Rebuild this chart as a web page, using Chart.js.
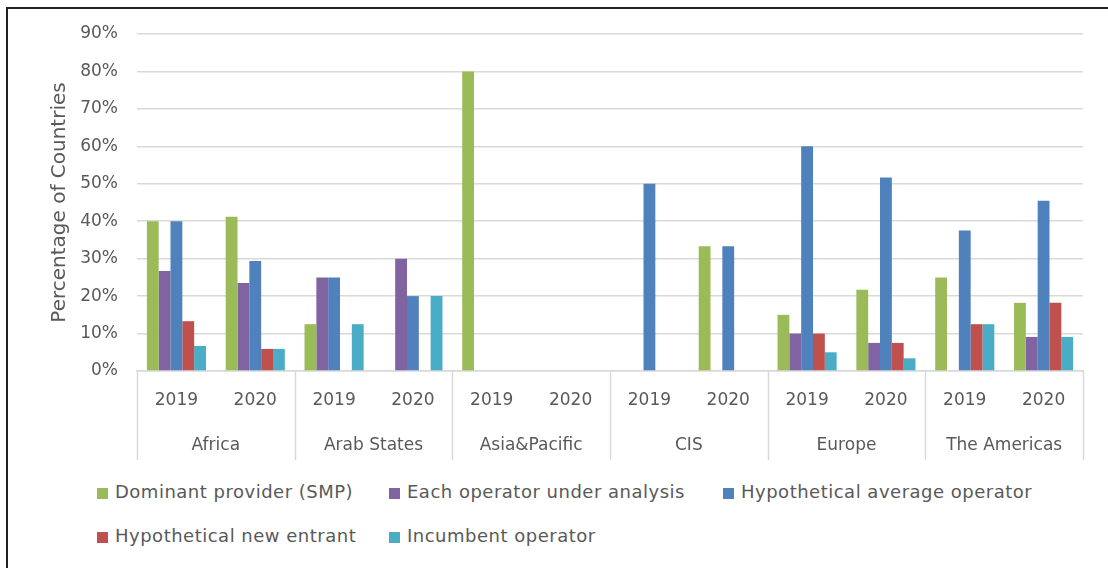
<!DOCTYPE html>
<html>
<head>
<meta charset="utf-8">
<script src="https://cdn.jsdelivr.net/npm/chart.js@4/dist/chart.umd.min.js"></script>
<style>
    body { margin: 0; background: #fff; width: 1108px; height: 568px; overflow: hidden; position: relative; font-family: "DejaVu Sans", sans-serif; }
    #frame { position: absolute; left: 6px; top: 7px; width: 1200px; height: 700px; border-left: 2px solid #222; border-top: 2px solid #222; }
    #chart { position: absolute; left: 0; top: 0; }
    .legendItem { position: absolute; top: 0; white-space: nowrap; font-size: 18px; letter-spacing: 0.5px; color: #595959; line-height: 22px; }
    .legendItem i { display: inline-block; width: 11px; height: 11px; margin-right: 7px; vertical-align: -1px; }
</style>
</head>
<body>
<div id="frame"></div>
<canvas id="chart" width="1108" height="470"></canvas>
<div id="legend"></div>
<script>
// categories
const regions = [ 'Africa', 'Arab States', 'Asia&Pacific', 'CIS', 'Europe', 'The Americas' ];
const years = [ '2019', '2020' ];
const yTicks = [ 0, 10, 20, 30, 40, 50, 60, 70, 80, 90 ];

// series values (% of countries), one per region/year
const dominantSMP     = [ 40, 41.2, 12.5, 0, 80, 0, 0, 33.3, 15, 21.7, 25, 18.2 ];
const eachOperator    = [ 26.7, 23.5, 25, 30, 0, 0, 0, 0, 10, 7.5, 0, 9.1 ];
const hypotheticalAvg = [ 40, 29.4, 25, 20, 0, 0, 50, 33.3, 60, 51.7, 37.5, 45.5 ];
const hypotheticalNew = [ 13.3, 5.9, 0, 0, 0, 0, 0, 0, 10, 7.5, 12.5, 18.2 ];
const incumbent       = [ 6.7, 5.9, 12.5, 20, 0, 0, 0, 0, 5, 3.4, 12.5, 9.1 ];

const seriesNames = [ 'Dominant provider (SMP)', 'Each operator under analysis', 'Hypothetical average operator', 'Hypothetical new entrant', 'Incumbent operator' ];
const seriesColors = [ '#9BBB59', '#8064A2', '#4F81BD', '#C0504D', '#4BACC6' ];
const seriesData = [ dominantSMP, eachOperator, hypotheticalAvg, hypotheticalNew, incumbent ];

const yearLabels = [];
regions.forEach( () => years.forEach( y => yearLabels.push( y ) ) );

const textColor = '#595959';
const gridColor = '#d9d9d9';

// vertical separators for the two-level category axis
const groupLines = {
    id: 'groupLines',
    afterDraw( chart )
    {
        const ctx = chart.ctx;
        const xs = chart.scales.x;
        const step = ( xs.right - xs.left ) / regions.length;
        ctx.save();
        ctx.strokeStyle = gridColor;
        ctx.lineWidth = 1.5;
        for( let i = 0; i <= regions.length; i++ )
        {
            const x = Math.round( xs.left + i * step ) + 0.5;
            ctx.beginPath();
            ctx.moveTo( x, chart.chartArea.bottom );
            ctx.lineTo( x, chart.chartArea.bottom + 89 );
            ctx.stroke();
        }
        ctx.restore();
    }
};

new Chart( document.getElementById( 'chart' ), {
    type: 'bar',
    data: {
        labels: yearLabels,
        datasets: seriesNames.map( ( name, i ) => ({
            label: name,
            data: seriesData[ i ],
            backgroundColor: seriesColors[ i ],
            borderWidth: 0,
            categoryPercentage: 0.75,
            barPercentage: 1.0,
        }))
    },
    options: {
        responsive: false,
        animation: false,
        devicePixelRatio: 1,
        layout: { padding: { left: 0, right: 25, top: 34, bottom: 7 } },
        plugins: { legend: { display: false }, tooltip: { enabled: false } },
        scales: {
            y: {
                min: 0,
                max: 90,
                afterBuildTicks: s => { s.ticks = yTicks.map( v => ({ value: v }) ); },
                afterFit: s => { s.width = 137; },
                border: { display: false },
                grid: { color: gridColor, lineWidth: 1.5, drawTicks: false },
                ticks: {
                    padding: 19,
                    color: textColor,
                    font: { family: 'DejaVu Sans', size: 17 },
                    callback: v => v + '%',
                },
                title: {
                    display: true,
                    text: 'Percentage of Countries',
                    color: textColor,
                    font: { family: 'DejaVu Sans', size: 20 },
                    padding: { top: 48, bottom: 0 },
                },
            },
            x: {
                position: 'bottom',
                afterFit: s => { s.height = 46; },
                grid: { display: false },
                border: { display: true, color: gridColor, width: 1.5 },
                ticks: {
                    padding: 11,
                    color: textColor,
                    autoSkip: false,
                    maxRotation: 0,
                    font: { family: 'DejaVu Sans', size: 17 },
                },
            },
            group: {
                type: 'category',
                position: 'bottom',
                labels: regions,
                offset: true,
                afterFit: s => { s.height = 46; },
                grid: { display: false },
                border: { display: false },
                ticks: {
                    padding: 10,
                    color: textColor,
                    autoSkip: false,
                    maxRotation: 0,
                    font: { family: 'DejaVu Sans', size: 17 },
                },
            },
        },
    },
    plugins: [ groupLines ],
});

// legend laid out in fixed columns like the original
const legendCols = [ 97, 389, 723 ];
const legendRows = [ 481, 525 ];
const legendEl = document.getElementById( 'legend' );
seriesNames.forEach( ( name, i ) => {
    const item = document.createElement( 'div' );
    item.className = 'legendItem';
    item.style.left = legendCols[ i % 3 ] + 'px';
    item.style.top = legendRows[ Math.floor( i / 3 ) ] + 'px';
    item.innerHTML = '<i style="background:' + seriesColors[ i ] + '"></i>' + name;
    legendEl.appendChild( item );
});
</script>
</body>
</html>
